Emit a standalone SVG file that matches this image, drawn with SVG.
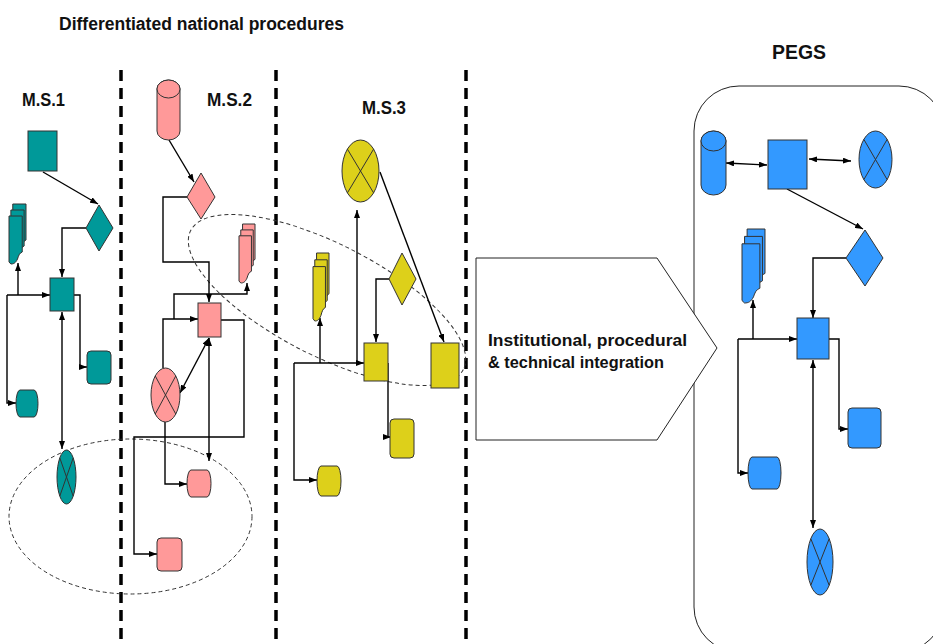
<svg xmlns="http://www.w3.org/2000/svg" xmlns:xlink="http://www.w3.org/1999/xlink" width="933" height="644" viewBox="0 0 933 644">
  <style>
    .conn { fill: none; stroke: #000; stroke-width: 1.4; }
    .arr { marker-end: url(#ah); }
    .bi { marker-start: url(#ah); marker-end: url(#ah); }
    .shape { stroke: #333; stroke-width: 1; }
    .teal { fill: #009999; }
    .pink { fill: #FF9999; }
    .yel { fill: #DDD01A; }
    .blue { fill: #3399FF; }
    .sep { stroke: #000; stroke-width: 3.5; stroke-dasharray: 11 7; fill: none; }
    .halo { fill: none; stroke: #333; stroke-width: 1; stroke-dasharray: 4 3; }
    .lbl { font-family: "Liberation Sans", Arial, sans-serif; font-weight: bold; fill: #111; }
    .xl { fill: none; stroke: #333; stroke-width: 1; }
  </style>
  <defs>
    <marker id="ah" viewBox="0 0 8 6" refX="8" refY="3" markerWidth="8" markerHeight="6" markerUnits="userSpaceOnUse" orient="auto-start-reverse">
      <path d="M0,0 L8,3 L0,6 Z" fill="#000"/>
    </marker>
    <!-- stacked documents shape, scaled per instance -->
    <symbol id="mdoc" viewBox="0 0 18 60" preserveAspectRatio="none" overflow="visible">
      <path transform="translate(4,0)" d="M0,0 H14 V36 C11,37 10,40 9,43 C7,47 5,48 2,48 L0,46 Z" stroke="#333" stroke-width="1" vector-effect="non-scaling-stroke"/>
      <path transform="translate(2,6)" d="M0,0 H14 V36 C11,37 10,40 9,43 C7,47 5,48 2,48 L0,46 Z" stroke="#333" stroke-width="1" vector-effect="non-scaling-stroke"/>
      <path transform="translate(0,12)" d="M0,0 H14 V36 C11,37 10,40 9,43 C7,47 5,48 2,48 L0,46 Z" stroke="#333" stroke-width="1" vector-effect="non-scaling-stroke"/>
    </symbol>
  </defs>

  <rect width="933" height="644" fill="#fff"/>

  <!-- headings -->
  <text class="lbl" x="59" y="30" font-size="18" textLength="285" lengthAdjust="spacingAndGlyphs">Differentiated national procedures</text>
  <text class="lbl" x="22" y="106" font-size="17.5" textLength="43" lengthAdjust="spacingAndGlyphs">M.S.1</text>
  <text class="lbl" x="207" y="106" font-size="17.5" textLength="45" lengthAdjust="spacingAndGlyphs">M.S.2</text>
  <text class="lbl" x="362" y="114" font-size="17.5" textLength="44" lengthAdjust="spacingAndGlyphs">M.S.3</text>
  <text class="lbl" x="772" y="59" font-size="19.5" textLength="54" lengthAdjust="spacingAndGlyphs">PEGS</text>

  <!-- column separators -->
  <g id="separators">
    <line class="sep" x1="121" y1="70" x2="121" y2="644"/>
    <line class="sep" x1="276" y1="70" x2="276" y2="644"/>
    <line class="sep" x1="466" y1="70" x2="466" y2="644"/>
  </g>

  <!-- dashed groupings -->
  <g id="groupings">
    <ellipse class="halo" cx="130.5" cy="516.5" rx="121.5" ry="77.5"/>
    <ellipse class="halo" cx="327" cy="300" rx="153" ry="56" transform="rotate(27 327 300)"/>
  </g>

  <!-- PEGS container and integration arrow -->
  <g id="pegs-frame">
    <rect x="694" y="86" width="250" height="566" rx="45" ry="45" fill="#fff" stroke="#222" stroke-width="1"/>
  </g>
  <g id="integration">
    <polygon points="476,258 657,258 717,348 657,440 476,440" fill="#fff" stroke="#222" stroke-width="1"/>
    <text class="lbl" x="488" y="346" font-size="17" textLength="199" lengthAdjust="spacingAndGlyphs">Institutional, procedural</text>
    <text class="lbl" x="488" y="368" font-size="17" textLength="176" lengthAdjust="spacingAndGlyphs">&amp; technical integration</text>
  </g>

  <!-- connectors -->
  <g id="connectors">
    <!-- M.S.1 -->
    <path class="conn arr" d="M43,172 L98,204"/>
    <path class="conn arr" d="M86,228 H62 V277"/>
    <path class="conn arr" d="M7,295 H50"/>
    <path class="conn arr" d="M18,295 V263"/>
    <path class="conn arr" d="M7,295 V403 H16"/>
    <path class="conn arr" d="M74,295 H80 V367 H87"/>
    <path class="conn bi" d="M62,312 V449"/>
    <!-- M.S.2 -->
    <path class="conn arr" d="M169,140 L194,182"/>
    <path class="conn arr" d="M187,197 H163 V262 H209 V302"/>
    <path class="conn arr" d="M163,368 V319 H198"/>
    <path class="conn arr" d="M174,319 V294 H247 V283"/>
    <path class="conn arr" d="M221,320 H244 V437 H134 V554 H157"/>
    <path class="conn bi" d="M180,393 L209,338"/>
    <path class="conn bi" d="M209,338 V461"/>
    <path class="conn arr" d="M165,422 V484 H187"/>
    <!-- M.S.3 -->
    <path class="conn arr" d="M380,172 L444,342"/>
    <path class="conn arr" d="M357,363 V210"/>
    <path class="conn arr" d="M294,363 H364"/>
    <path class="conn arr" d="M320,363 V318"/>
    <path class="conn arr" d="M389,279 H376 V342"/>
    <path class="conn arr" d="M294,363 V480 H317"/>
    <path class="conn arr" d="M388,363 V437 H391"/>
    <!-- PEGS -->
    <path class="conn bi" d="M726,163 L767,165"/>
    <path class="conn bi" d="M809,159 L851,161"/>
    <path class="conn arr" d="M787,189 L863,229"/>
    <path class="conn arr" d="M846,258 H813 V318"/>
    <path class="conn arr" d="M738,339 H797"/>
    <path class="conn arr" d="M753,339 V300"/>
    <path class="conn arr" d="M738,339 V473 H748"/>
    <path class="conn arr" d="M829,339 H839 V429 H848"/>
    <path class="conn bi" d="M813,360 V528"/>
  </g>

  <!-- M.S.1 nodes -->
  <g id="ms1-source"><rect class="shape teal" x="28" y="131" width="29" height="40"/></g>
  <g id="ms1-decision"><polygon class="shape teal" points="99,205 113,228 99,251 86,228"/></g>
  <g id="ms1-docs" class="teal"><use xlink:href="#mdoc" href="#mdoc" x="9" y="204" width="17" height="60"/></g>
  <g id="ms1-process"><rect class="shape teal" x="50" y="278" width="24" height="33"/></g>
  <g id="ms1-store"><path class="shape teal" d="M20,390 H34 A4,13.5 0 0 1 34,417 H20 A4,13.5 0 0 1 20,390 Z"/></g>
  <g id="ms1-output"><rect class="shape teal" x="87" y="351" width="24" height="33" rx="4"/></g>
  <g id="ms1-junction">
    <ellipse class="shape teal" cx="66.5" cy="477" rx="9.5" ry="27"/>
    <path class="xl" d="M59.8,457.9 L73.2,496.1 M73.2,457.9 L59.8,496.1"/>
  </g>

  <!-- M.S.2 nodes -->
  <g id="ms2-database">
    <path class="shape pink" d="M157,89 A11.5,9 0 0 1 180,89 V131 A11.5,9 0 0 1 157,131 Z"/>
    <ellipse class="shape pink" cx="168.5" cy="89" rx="11.5" ry="9"/>
  </g>
  <g id="ms2-decision"><polygon class="shape pink" points="201,173 215,197 201,219 187,197"/></g>
  <g id="ms2-docs" class="pink"><use xlink:href="#mdoc" href="#mdoc" x="239" y="224" width="16" height="59"/></g>
  <g id="ms2-process"><rect class="shape pink" x="198" y="303" width="23" height="34"/></g>
  <g id="ms2-junction">
    <ellipse class="shape pink" cx="165.5" cy="395" rx="14.5" ry="27"/>
    <path class="xl" d="M155.2,375.9 L175.8,414.1 M175.8,375.9 L155.2,414.1"/>
  </g>
  <g id="ms2-store"><path class="shape pink" d="M191,470 H207 A4,13.5 0 0 1 207,497 H191 A4,13.5 0 0 1 191,470 Z"/></g>
  <g id="ms2-output"><rect class="shape pink" x="157" y="538" width="25" height="33" rx="4"/></g>

  <!-- M.S.3 nodes -->
  <g id="ms3-junction">
    <ellipse class="shape yel" cx="360.5" cy="171" rx="18.5" ry="31"/>
    <path class="xl" d="M347.4,149.1 L373.6,192.9 M373.6,149.1 L347.4,192.9"/>
  </g>
  <g id="ms3-docs" class="yel"><use xlink:href="#mdoc" href="#mdoc" x="313" y="253" width="16" height="68"/></g>
  <g id="ms3-decision"><polygon class="shape yel" points="402,253 416,279 402,305 389,279"/></g>
  <g id="ms3-process"><rect class="shape yel" x="364" y="343" width="24" height="38"/></g>
  <g id="ms3-target"><rect class="shape yel" x="431" y="343" width="28" height="45"/></g>
  <g id="ms3-store"><path class="shape yel" d="M321,466 H337 A4,15 0 0 1 337,496 H321 A4,15 0 0 1 321,466 Z"/></g>
  <g id="ms3-output"><rect class="shape yel" x="390" y="419" width="24" height="39" rx="4"/></g>

  <!-- PEGS nodes -->
  <g id="pegs-database">
    <path class="shape blue" d="M701,141 A12.5,10 0 0 1 726,141 V185 A12.5,10 0 0 1 701,185 Z"/>
    <ellipse class="shape blue" cx="713.5" cy="141" rx="12.5" ry="10"/>
  </g>
  <g id="pegs-source"><rect class="shape blue" x="768" y="140" width="39" height="49"/></g>
  <g id="pegs-link">
    <ellipse class="shape blue" cx="875.5" cy="159.5" rx="16.5" ry="28.5"/>
    <path class="xl" d="M863.8,139.3 L887.2,179.7 M887.2,139.3 L863.8,179.7"/>
  </g>
  <g id="pegs-decision"><polygon class="shape blue" points="865,230 883,258 865,286 846,258"/></g>
  <g id="pegs-docs" class="blue"><use xlink:href="#mdoc" href="#mdoc" x="742" y="229" width="23" height="74"/></g>
  <g id="pegs-process"><rect class="shape blue" x="797" y="318" width="32" height="41"/></g>
  <g id="pegs-store"><path class="shape blue" d="M752,457 H777 A4,16 0 0 1 777,489 H752 A4,16 0 0 1 752,457 Z"/></g>
  <g id="pegs-output"><rect class="shape blue" x="848" y="408" width="33" height="40" rx="4"/></g>
  <g id="pegs-junction">
    <ellipse class="shape blue" cx="820" cy="562" rx="13" ry="33"/>
    <path class="xl" d="M810.8,538.7 L829.2,585.3 M829.2,538.7 L810.8,585.3"/>
  </g>
</svg>
